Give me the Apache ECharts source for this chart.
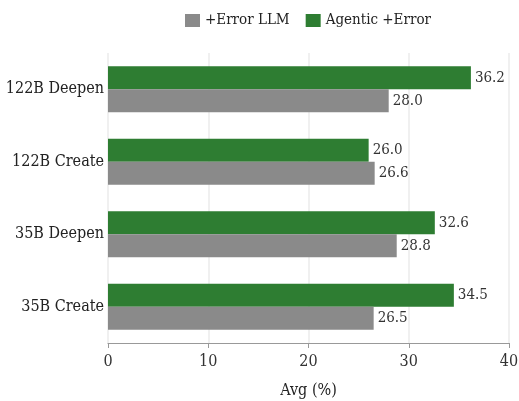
<!DOCTYPE html>
<html>
<head>
<meta charset="utf-8">
<script src="https://cdn.jsdelivr.net/npm/echarts@6/dist/echarts.min.js"></script>
<style>
  html, body { margin: 0; padding: 0; background: #fff; }
  #chart { width: 519px; height: 401px; }
</style>
</head>
<body>
<div id="chart"></div>
<script>
// categories listed bottom to top (category axis on y)
const categories = ['35B Create', '35B Deepen', '122B Create', '122B Deepen']
const errorLLM = [26.5, 28.8, 26.6, 28.0]
const agenticError = [34.5, 32.6, 26.0, 36.2]
const xTicks = [0, 10, 20, 30, 40]

const FONT = '"DejaVu Serif Condensed", "DejaVu Serif", serif'

const chart = echarts.init(document.getElementById('chart'))

const valueLabel = {
  show: true,
  position: 'right',
  distance: 4,
  fontFamily: FONT,
  fontSize: 15,
  color: '#333',
  formatter: (p) => p.value.toFixed(1)
}

chart.setOption({
  animation: false,
  textStyle: { fontFamily: FONT },
  legend: {
    top: 8,
    left: 180,
    itemWidth: 15,
    itemHeight: 13,
    itemGap: 16,
    icon: 'rect',
    textStyle: { fontFamily: FONT, fontSize: 15, color: '#222' },
    data: ['+Error LLM', 'Agentic +Error']
  },
  grid: {
    left: 108,
    right: 10,
    top: 53,
    bottom: 58,
    outerBoundsMode: 'none'
  },
  xAxis: {
    type: 'value',
    min: xTicks[0],
    max: xTicks[xTicks.length - 1],
    interval: 10,
    name: 'Avg (%)',
    nameLocation: 'middle',
    nameGap: 40,
    nameTextStyle: { fontFamily: FONT, fontSize: 16, color: '#222' },
    axisLine: { show: true, lineStyle: { color: '#999', width: 1.2 } },
    axisTick: { show: true, length: 5, lineStyle: { color: '#999' } },
    axisLabel: { fontFamily: FONT, fontSize: 16, color: '#333', margin: 11 },
    splitLine: { show: true, lineStyle: { color: '#ebebeb', width: 1.5 } }
  },
  yAxis: {
    type: 'category',
    data: categories,
    axisLine: { show: false },
    axisTick: { show: false },
    axisLabel: { fontFamily: FONT, fontSize: 16, color: '#222', margin: 4 }
  },
  // green listed first so it sits above the gray bar in each group
  series: [
    {
      name: 'Agentic +Error',
      type: 'bar',
      data: agenticError,
      barWidth: 23,
      barGap: '0%',
      itemStyle: { color: '#2e7d32' },
      label: valueLabel
    },
    {
      name: '+Error LLM',
      type: 'bar',
      data: errorLLM,
      barWidth: 23,
      barGap: '0%',
      itemStyle: { color: '#8a8a8a' },
      label: valueLabel
    }
  ]
})
</script>
</body>
</html>
